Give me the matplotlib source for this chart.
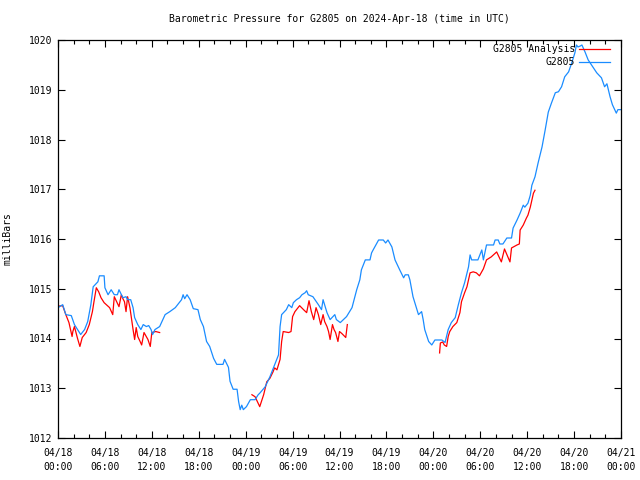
import pandas as pd
import matplotlib
matplotlib.use('Agg')
import matplotlib.pyplot as plt
import matplotlib.dates as mdates
from matplotlib.lines import Line2D

# Hours after 2024-04-18 00:00 UTC and pressure (mbar)
obs_hours = [0.0, 0.6, 1.0, 1.7, 2.1, 2.5, 2.9, 3.4, 3.8, 4.2, 4.5, 5.1, 5.3, 5.9,
             6.0, 6.4, 6.8, 7.2, 7.6, 7.8, 8.3, 8.7, 8.9, 9.3, 9.6, 9.8, 10.2, 10.6,
             10.9, 11.3, 11.6, 11.9, 12.1, 12.4, 13.0, 13.7, 14.3, 15.0, 15.8, 16.0,
             16.2, 16.5, 16.9, 17.3, 17.9, 18.2, 18.6, 19.0, 19.4, 19.9, 20.3, 21.1,
             21.3, 21.8, 22.0, 22.4, 22.9, 23.1, 23.3, 23.5, 23.7, 24.1, 24.6, 25.2,
             25.6, 25.8, 26.5, 27.1, 27.7, 28.2, 28.4, 28.6, 29.2, 29.5, 29.9, 30.1,
             30.5, 30.9, 31.2, 31.6, 31.8, 32.0, 32.6, 33.3, 33.7, 33.9, 34.4, 34.8,
             35.4, 35.6, 36.1, 36.5, 36.9, 37.6, 38.2, 38.6, 38.8, 39.3, 39.9, 40.1,
             40.3, 41.0, 41.6, 41.9, 42.2, 42.7, 43.1, 43.7, 44.2, 44.4, 44.8, 45.0,
             45.4, 45.9, 46.1, 46.5, 46.7, 46.9, 47.4, 47.8, 48.2, 49.1, 49.5, 49.9,
             50.3, 50.8, 51.2, 51.6, 52.0, 52.5, 52.7, 52.9, 53.7, 54.2, 54.4, 54.8,
             55.7, 55.9, 56.3, 56.5, 56.9, 57.4, 58.0, 58.2, 58.7, 59.1, 59.5, 59.7,
             60.1, 60.4, 60.6, 61.0, 61.4, 61.9, 62.3, 62.7, 63.1, 63.6, 64.0, 64.4,
             64.8, 65.3, 65.7, 66.1, 66.3, 66.5, 66.8, 67.0, 67.4, 67.8, 68.4, 68.9,
             69.5, 69.9, 70.2, 70.6, 70.9, 71.4, 71.6, 72.0]
obs_mbar = [1014.62, 1014.68, 1014.48, 1014.46, 1014.28, 1014.18, 1014.08, 1014.18,
            1014.34, 1014.68, 1015.04, 1015.14, 1015.26, 1015.26, 1015.02, 1014.88,
            1014.98, 1014.88, 1014.88, 1014.98, 1014.82, 1014.84, 1014.78, 1014.78,
            1014.62, 1014.42, 1014.28, 1014.18, 1014.28, 1014.24, 1014.26, 1014.18,
            1014.08, 1014.18, 1014.24, 1014.48, 1014.54, 1014.62, 1014.78, 1014.88,
            1014.80, 1014.88, 1014.78, 1014.60, 1014.58, 1014.38, 1014.24, 1013.94,
            1013.84, 1013.60, 1013.48, 1013.48, 1013.58, 1013.42, 1013.14, 1012.98,
            1012.98, 1012.73, 1012.57, 1012.66, 1012.57, 1012.63, 1012.77, 1012.77,
            1012.87, 1012.90, 1013.03, 1013.23, 1013.47, 1013.67, 1014.24, 1014.48,
            1014.58, 1014.68, 1014.62, 1014.72, 1014.78, 1014.82, 1014.88, 1014.92,
            1014.96, 1014.88, 1014.84, 1014.68, 1014.58, 1014.78, 1014.52, 1014.38,
            1014.48, 1014.38, 1014.32, 1014.38, 1014.44, 1014.62, 1014.98, 1015.18,
            1015.38, 1015.58, 1015.58, 1015.72, 1015.78, 1015.98, 1015.98, 1015.92,
            1015.98, 1015.84, 1015.58, 1015.38, 1015.22, 1015.28, 1015.28, 1015.18,
            1014.84, 1014.58, 1014.48, 1014.54, 1014.38, 1014.18, 1013.94, 1013.87,
            1013.97, 1013.97, 1013.92, 1014.18, 1014.32, 1014.42, 1014.68, 1014.92,
            1015.12, 1015.44, 1015.68, 1015.58, 1015.58, 1015.78, 1015.58, 1015.88,
            1015.88, 1015.98, 1015.98, 1015.90, 1015.90, 1016.02, 1016.02, 1016.22,
            1016.38, 1016.52, 1016.68, 1016.64, 1016.72, 1016.88, 1017.08, 1017.25,
            1017.53, 1017.85, 1018.19, 1018.55, 1018.73, 1018.94, 1018.96, 1019.06,
            1019.26, 1019.36, 1019.54, 1019.74, 1019.90, 1019.86, 1019.88, 1019.90,
            1019.76, 1019.60, 1019.46, 1019.34, 1019.24, 1019.06, 1019.12, 1018.86,
            1018.70, 1018.53, 1018.60, 1018.60]

# Analysis runs (three separate pieces)
ana1_hours = [0.0, 0.6, 1.0, 1.4, 1.8, 1.9, 2.1, 2.5, 2.8, 3.1, 3.6, 4.0, 4.4, 4.6,
              4.9, 5.2, 5.5, 5.9, 6.6, 7.0, 7.2, 7.5, 7.8, 8.1, 8.3, 8.5, 8.7, 8.9,
              9.2, 9.6, 9.8, 10.0, 10.2, 10.5, 10.7, 11.0, 11.5, 11.8, 12.0, 12.5, 13.0]
ana1_mbar = [1014.65, 1014.66, 1014.48, 1014.32, 1014.04, 1014.14, 1014.24, 1014.00,
             1013.84, 1014.02, 1014.12, 1014.28, 1014.54, 1014.74, 1015.02, 1014.94,
             1014.82, 1014.72, 1014.62, 1014.48, 1014.84, 1014.74, 1014.64, 1014.88,
             1014.80, 1014.74, 1014.54, 1014.84, 1014.62, 1014.18, 1013.98, 1014.22,
             1014.04, 1013.94, 1013.87, 1014.12, 1013.98, 1013.84, 1014.12, 1014.14,
             1014.12]
ana2_hours = [24.8, 25.2, 25.8, 26.3, 26.7, 27.1, 27.5, 27.7, 28.0, 28.4, 28.6, 28.8,
              29.5, 29.8, 30.0, 30.3, 30.9, 31.4, 31.8, 32.1, 32.4, 32.7, 33.0, 33.3,
              33.6, 33.9, 34.1, 34.4, 34.6, 34.8, 35.1, 35.3, 35.5, 35.8, 36.0, 36.3,
              36.8, 37.0]
ana2_mbar = [1012.87, 1012.83, 1012.63, 1012.87, 1013.13, 1013.20, 1013.33, 1013.41,
             1013.37, 1013.58, 1013.94, 1014.14, 1014.12, 1014.14, 1014.44, 1014.54,
             1014.66, 1014.58, 1014.52, 1014.76, 1014.54, 1014.38, 1014.62, 1014.48,
             1014.28, 1014.48, 1014.34, 1014.24, 1014.14, 1013.98, 1014.28, 1014.18,
             1014.12, 1013.94, 1014.14, 1014.10, 1014.02, 1014.28]
ana3_hours = [48.8, 48.9, 49.2, 49.4, 49.7, 49.9, 50.1, 50.5, 51.0, 51.4, 51.6, 52.0,
              52.3, 52.7, 53.1, 53.5, 53.9, 54.4, 54.8, 55.4, 56.1, 56.7, 57.1, 57.8,
              58.0, 58.7, 59.0, 59.1, 59.5, 59.9, 60.1, 60.4, 60.6, 60.8, 61.0]
ana3_mbar = [1013.71, 1013.91, 1013.93, 1013.87, 1013.84, 1014.04, 1014.14, 1014.24,
             1014.32, 1014.52, 1014.74, 1014.92, 1015.04, 1015.32, 1015.34, 1015.32,
             1015.26, 1015.40, 1015.58, 1015.64, 1015.74, 1015.54, 1015.80, 1015.54,
             1015.82, 1015.88, 1015.90, 1016.18, 1016.28, 1016.42, 1016.48, 1016.64,
             1016.78, 1016.92, 1016.98]

start = pd.Timestamp('2024-04-18 00:00')


def to_time(hours):
    return start + pd.to_timedelta(hours, unit='h')


font = 'DejaVu Sans Mono'
fs = 7.0
red = '#ff0000'
blue = '#1a8cff'

fig = plt.figure(figsize=(6.4, 4.8), dpi=100)
ax = fig.add_axes([58 / 640, 42 / 480, 563 / 640, 398 / 480])

for h, v in [(ana1_hours, ana1_mbar), (ana2_hours, ana2_mbar), (ana3_hours, ana3_mbar)]:
    ax.plot(to_time(h), v, color=red, lw=0.9)
ax.plot(to_time(obs_hours), obs_mbar, color=blue, lw=0.9)

ax.set_xlim(start, start + pd.Timedelta(hours=72))
ax.set_ylim(1012, 1020)
ax.set_yticks(range(1012, 1021))

ax.xaxis.set_major_locator(mdates.HourLocator(byhour=[0, 6, 12, 18]))
ax.xaxis.set_minor_locator(mdates.HourLocator(interval=2))
ax.xaxis.set_major_formatter(mdates.DateFormatter('%m/%d\n%H:%M'))

ax.tick_params(which='both', direction='in', top=True, right=True, width=0.8,
               labelsize=fs, labelfontfamily=font)
ax.tick_params(which='major', length=5)
ax.tick_params(which='minor', length=3)
ax.tick_params(axis='x', pad=7)
ax.tick_params(axis='y', pad=4)
for lbl in ax.get_xticklabels():
    lbl.set_linespacing(1.5)
for sp in ax.spines.values():
    sp.set_linewidth(0.9)

ax.set_title('Barometric Pressure for G2805 on 2024-Apr-18 (time in UTC)',
             fontsize=fs, family=font, pad=13)
ax.set_ylabel('milliBars', fontsize=fs, family=font)
ax.yaxis.set_label_coords(-0.08, 0.5)

# legend drawn gnuplot-style: right-aligned text, sample line to the right
for i, (name, col) in enumerate([('G2805 Analysis', red), ('G2805', blue)]):
    yy = 0.977 - i * 0.033
    ax.text(0.918, yy, name, transform=ax.transAxes, ha='right', va='center',
            fontsize=fs, family=font)
    ax.add_line(Line2D([0.926, 0.981], [yy, yy], transform=ax.transAxes,
                       color=col, lw=0.9))

fig.savefig('out.png', dpi=100)
